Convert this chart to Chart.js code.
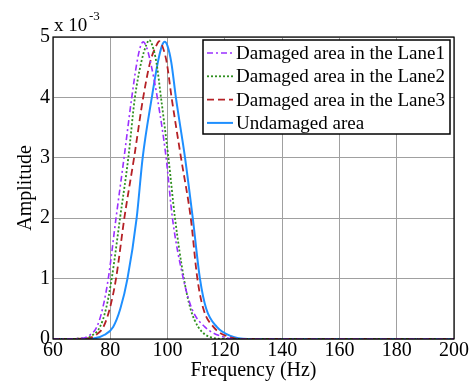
<!DOCTYPE html>
<html>
<head>
<meta charset="utf-8">
<script src="https://cdn.jsdelivr.net/npm/chart.js@4.4.1/dist/chart.umd.min.js"></script>
<style>
  html, body { margin: 0; padding: 0; background: #fff; }
  #wrap { width: 475px; height: 383px; }
</style>
</head>
<body>
<div id="wrap"><canvas id="chart" width="475" height="383"></canvas></div>
<script>
// Amplitude values are in units of 10^-3
const lane1Freq = [60, 70, 73, 75.3, 77.3, 79.3, 82, 84.8, 87.5, 89.2, 90.5, 91.5, 92.6, 94.2, 96.4, 99.5, 101.7, 105.5, 108.5, 113, 119, 125, 200];
const lane1Amp  = [0, 0.01, 0.07, 0.2, 0.5, 1, 2, 3, 4, 4.55, 4.84, 4.92, 4.84, 4.55, 4, 3, 2, 1, 0.5, 0.2, 0.04, 0, 0];

const lane2Freq = [60, 71, 74, 76.4, 78.5, 80.5, 83.4, 86.3, 88.6, 90.9, 92.6, 93.6, 94.6, 96.1, 97.7, 100.3, 102.6, 105.7, 108, 110.7, 115, 121, 200];
const lane2Amp  = [0, 0.01, 0.07, 0.2, 0.5, 1, 2, 3, 4, 4.6, 4.87, 4.95, 4.87, 4.58, 4, 3, 2, 1, 0.5, 0.2, 0.03, 0, 0];

const lane3Freq = [60, 72, 75, 77.6, 79.8, 82, 84.9, 88.3, 91.5, 93.9, 96.1, 97.1, 98.1, 99.7, 101.4, 104.7, 108.1, 110.4, 112.5, 116, 121, 126, 200];
const lane3Amp  = [0, 0.01, 0.07, 0.2, 0.5, 1, 2, 3, 4, 4.58, 4.86, 4.93, 4.86, 4.58, 4, 3, 2, 1, 0.5, 0.2, 0.04, 0, 0];

const undamagedFreq = [60, 74, 78, 81, 83.5, 86, 89.2, 91.3, 94.5, 96.6, 98, 99, 100, 101.3, 102.9, 106.1, 108.8, 111.3, 113.5, 117.2, 122, 128, 200];
const undamagedAmp  = [0, 0.01, 0.07, 0.2, 0.5, 1, 2, 3, 4, 4.58, 4.85, 4.92, 4.85, 4.58, 4, 3, 2, 1, 0.5, 0.2, 0.05, 0, 0];

const seriesLabels = ['Damaged area in the Lane1', 'Damaged area in the Lane2', 'Damaged area in the Lane3', 'Undamaged area'];
const xTicks = [60, 80, 100, 120, 140, 160, 180, 200];
const yTicks = [0, 1, 2, 3, 4, 5];

const toPoints = (xs, ys) => xs.map((x, i) => ({ x: x, y: ys[i] }));

const styles = [
    { color: '#9b30ff', dash: [6, 3, 2, 3], width: 1.6 },
    { color: '#2f8f1f', dash: [2, 2], width: 1.8 },
    { color: '#b52025', dash: [7, 4], width: 1.8 },
    { color: '#1e8fff', dash: [], width: 2 }
];

const allData = [
    toPoints(lane1Freq, lane1Amp),
    toPoints(lane2Freq, lane2Amp),
    toPoints(lane3Freq, lane3Amp),
    toPoints(undamagedFreq, undamagedAmp)
];

const serif = 'Liberation Serif, Times New Roman, serif';

// Legend box + exponent label + frame
const decorPlugin = {
    id: 'decor',
    afterDraw(chart) {
        const ctx = chart.ctx;
        const a = chart.chartArea;
        ctx.save();
        // plot frame
        ctx.strokeStyle = '#000';
        ctx.lineWidth = 1.2;
        ctx.strokeRect(a.left, a.top, a.right - a.left, a.bottom - a.top);

        // exponent
        ctx.fillStyle = '#000';
        ctx.textBaseline = 'alphabetic';
        ctx.textAlign = 'left';
        ctx.font = '19px ' + serif;
        ctx.fillText('x 10', a.left + 1, 31);
        ctx.font = '13px ' + serif;
        ctx.fillText('-3', a.left + 36, 20);

        // legend
        const lx = 203, ly = 40, lw = 247, lh = 94;
        ctx.fillStyle = '#fff';
        ctx.fillRect(lx, ly, lw, lh);
        ctx.strokeStyle = '#000';
        ctx.lineWidth = 1.5;
        ctx.strokeRect(lx, ly, lw, lh);
        ctx.font = '19px ' + serif;
        ctx.textBaseline = 'middle';
        seriesLabels.forEach((lab, i) => {
            const y = ly + 13 + i * 23.3;
            const s = styles[i];
            ctx.strokeStyle = s.color;
            ctx.lineWidth = s.width;
            ctx.setLineDash(s.dash);
            ctx.beginPath();
            ctx.moveTo(lx + 4, y);
            ctx.lineTo(lx + 30, y);
            ctx.stroke();
            ctx.setLineDash([]);
            ctx.fillStyle = '#000';
            ctx.fillText(lab, lx + 33, y + 1);
        });
        ctx.restore();
    }
};

new Chart(document.getElementById('chart').getContext('2d'), {
    type: 'line',
    data: {
        datasets: allData.map((d, i) => ({
            label: seriesLabels[i],
            data: d,
            borderColor: styles[i].color,
            borderDash: styles[i].dash,
            borderWidth: styles[i].width,
            pointRadius: 0,
            fill: false,
            cubicInterpolationMode: 'monotone'
        }))
    },
    options: {
        responsive: false,
        animation: false,
        events: [],
        layout: { padding: { top: 37, right: 21, left: 0, bottom: 0 } },
        plugins: {
            legend: { display: false },
            tooltip: { enabled: false }
        },
        scales: {
            x: {
                type: 'linear',
                min: 60,
                max: 200,
                afterBuildTicks: axis => { axis.ticks = xTicks.map(v => ({ value: v })); },
                afterFit: axis => { axis.height = 44; },
                grid: { color: '#a0a0a0', lineWidth: 1, drawTicks: false },
                border: { display: false },
                ticks: {
                    color: '#000',
                    font: { family: serif, size: 20 },
                    padding: 0,
                    maxRotation: 0
                },
                title: {
                    display: true,
                    text: 'Frequency (Hz)',
                    color: '#000',
                    font: { family: serif, size: 20 },
                    padding: { top: 0, bottom: 0 }
                }
            },
            y: {
                min: 0,
                max: 5,
                afterBuildTicks: axis => { axis.ticks = yTicks.map(v => ({ value: v })); },
                afterFit: axis => { axis.width = 53; },
                grid: { color: '#a0a0a0', lineWidth: 1, drawTicks: false },
                border: { display: false },
                ticks: {
                    color: '#000',
                    font: { family: serif, size: 20 },
                    padding: 3
                },
                title: {
                    display: true,
                    text: 'Amplitude',
                    color: '#000',
                    font: { family: serif, size: 20 },
                    padding: { top: 14, bottom: 0 }
                }
            }
        }
    },
    plugins: [decorPlugin]
});
</script>
</body>
</html>
